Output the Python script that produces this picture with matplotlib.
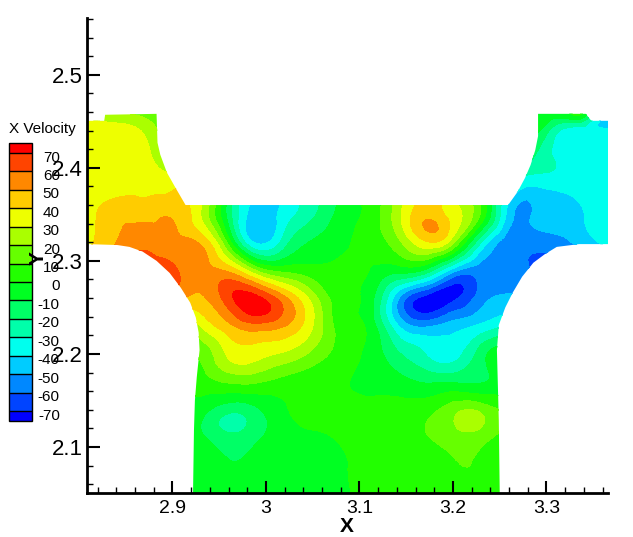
import numpy as np
import matplotlib
matplotlib.use('Agg')
import matplotlib.pyplot as plt
import matplotlib.tri as mtri
from matplotlib.patches import Polygon
from matplotlib.ticker import MultipleLocator, FormatStrFormatter
from matplotlib.transforms import ScaledTranslation

plt.rcParams['font.family'] = ['Liberation Sans', 'DejaVu Sans']
plt.rcParams['axes.unicode_minus'] = False

# Velocity on a coarse lattice (also just outside the
# domain, so the contours run cleanly up to the clip edge)
x_grid = [2.81, 2.84, 2.87, 2.90, 2.93, 2.96, 2.99, 3.02, 3.05, 3.08,
          3.11, 3.14, 3.17, 3.20, 3.23, 3.26, 3.29, 3.32, 3.35, 3.38]
y_grid = [2.47, 2.44, 2.41, 2.38, 2.35, 2.32, 2.29, 2.26, 2.23, 2.20,
          2.17, 2.14, 2.11, 2.08, 2.05]
u_rows = [
    [25, 12, 8, 5, 5, 3, 0, 0, 0, 0, 0, 0, 0, 0, 0, -2, -3, -3, -15, -36],
    [34, 34, 28, 12, 5, 0, -5, -5, -3, -1, 1, 3, 5, 3, 1, 0, -8, -33, -36, -36],
    [35, 35, 33, 22, 15, -5, -25, -22, -12, -3, 2, 10, 25, 15, 3, -10, -22, -35, -36, -36],
    [35, 36, 37, 38, 35, -10, -38, -36, -22, -7, 3, 20, 42, 30, 5, -30, -40, -37, -35, -35],
    [36, 46, 47, 49, 30, -15, -45, -36, -22, -7, 3, 25, 47, 35, 8, -45, -48, -45, -37, -35],
    [38, 50, 57, 53, 48, 5, -42, -25, -9, -2, 3, 16, 38, 22, -30, -55, -56, -52, -42, -35],
    [45, 60, 65, 62, 53, 47, 18, 6, 3, 2, 0, -6, -12, -45, -55, -55, -62, -65, -60, -40],
    [45, 55, 60, 55, 48, 66, 73, 52, 25, 4, -5, -47, -74, -73, -55, -48, -50, -55, -55, -40],
    [30, 30, 30, 20, 30, 47, 56, 50, 30, 6, -3, -38, -52, -45, -38, -30, -35, -35, -35, -35],
    [5, 5, 5, 10, 12, 32, 34, 28, 17, 6, -3, -18, -30, -35, -15, -3, -5, -5, -5, -5],
    [0, 0, 0, 2, 5, 11, 11, 6, 3, 1, -3, -6, -11, -11, -11, -3, 0, 0, 0, 0],
    [-2, -2, -2, -2, -6, -17, -12, -1, 2, 3, 3, 4, 6, 16, 17, 6, 3, 3, 3, 3],
    [-2, -2, -2, -3, -8, -17, -12, -3, -1, 1, 4, 5, 9, 15, 14, 5, 3, 3, 3, 3],
    [-2, -2, -2, -2, -2, -9, -6, -3, -2, -1, 3, 4, 5, 9, 9, 4, 3, 3, 3, 3],
    [-2, -2, -2, -2, -2, -3, -3, -3, -2, -1, 2, 3, 4, 4, 4, 3, 3, 3, 3, 3],
]

# Extra readings for details smaller than the lattice
extra_x = [3.175, 2.9957, 2.972, 3.205, 3.170, 2.957, 3.220,
           3.30, 3.33, 3.35, 3.30, 3.34]
extra_y = [2.3366, 2.2473, 2.2667, 2.271, 2.245, 2.125, 2.133,
           2.45, 2.45, 2.45, 2.457, 2.457]
extra_u = [52, 74, 71, -73, -72, -23, 24,
           -8, -16, -34, -4, -5]

# Outline of the flow domain
edge_x = [2.922, 2.923, 2.924, 2.926, 2.929, 2.928, 2.925, 2.919, 2.909, 2.897,
          2.883, 2.868, 2.854, 2.841, 2.809, 2.809, 2.827, 2.828, 2.883, 2.884,
          2.887, 2.894, 2.903, 2.914, 3.259, 3.269, 3.277, 3.283, 3.288, 3.291,
          3.291, 3.342, 3.348, 3.366, 3.366, 3.335, 3.311, 3.298, 3.286, 3.274,
          3.264, 3.256, 3.249, 3.247, 3.248, 3.249, 3.250]
edge_y = [2.0505, 2.118, 2.150, 2.175, 2.204, 2.223, 2.239, 2.255, 2.271, 2.287,
          2.300, 2.310, 2.315, 2.317, 2.318, 2.4505, 2.4505, 2.457, 2.458, 2.427,
          2.414, 2.395, 2.379, 2.360, 2.360, 2.374, 2.389, 2.403, 2.419, 2.434,
          2.458, 2.458, 2.4505, 2.4505, 2.318, 2.318, 2.315, 2.307, 2.298, 2.283,
          2.266, 2.250, 2.231, 2.204, 2.167, 2.129, 2.0505]

levels = [-70, -60, -50, -40, -30, -20, -10, 0, 10, 20, 30, 40, 50, 60, 70]
band_colors = ['#0000ff', '#0044ff', '#0088ff', '#00ccff', '#00ffee', '#00ffaa',
               '#00ff66', '#00ff22', '#22ff00', '#66ff00', '#aaff00', '#eeff00',
               '#ffcc00', '#ff8800', '#ff4400', '#ff0000']

W, H = 633, 537
fig = plt.figure(figsize=(W / 100, H / 100), dpi=100)
ax = fig.add_axes([87 / W, (H - 493) / H, (608 - 87) / W, (493 - 18) / H])

X, Y = np.meshgrid(x_grid, y_grid)
pts_x = np.concatenate([X.ravel(), extra_x])
pts_y = np.concatenate([Y.ravel(), extra_y])
pts_u = np.concatenate([np.array(u_rows, dtype=float).ravel(), extra_u])
tri = mtri.Triangulation(pts_x, pts_y)
refiner = mtri.UniformTriRefiner(tri)
fine_tri, fine_u = refiner.refine_field(pts_u, subdiv=3)

cs = ax.tricontourf(fine_tri, fine_u, levels=levels, colors=band_colors, extend='both')
domain = Polygon(np.column_stack([edge_x, edge_y]), closed=True, transform=ax.transData,
                 facecolor='none', edgecolor='none')
ax.add_patch(domain)
cs.set_clip_path(domain)
cs.set_edgecolor('face')
cs.set_linewidth(0.3)

ax.set_xlim(2.8086, 3.3658)
ax.set_ylim(2.0505, 2.561)
ax.spines['top'].set_visible(False)
ax.spines['right'].set_visible(False)
ax.spines['left'].set_linewidth(2)
ax.spines['bottom'].set_linewidth(2)
ax.xaxis.set_major_locator(MultipleLocator(0.1))
ax.xaxis.set_minor_locator(MultipleLocator(0.02))
ax.yaxis.set_major_locator(MultipleLocator(0.1))
ax.yaxis.set_minor_locator(MultipleLocator(0.02))
ax.xaxis.set_major_formatter(FormatStrFormatter('%g'))
ax.yaxis.set_major_formatter(FormatStrFormatter('%g'))
ax.tick_params(axis='x', which='major', direction='in', length=9, width=1.5, labelsize=14, pad=5)
ax.tick_params(axis='y', which='major', direction='in', length=9, width=1.5, labelsize=16, pad=3)
ax.tick_params(which='minor', direction='in', length=4.5, width=1)
ax.set_axisbelow(False)

fig.text(347 / W, (H - 527) / H, 'X', fontsize=15, fontweight='bold', ha='center', va='center')
fig.text(38 / W, (H - 258) / H, 'Y', fontsize=15, fontweight='bold', rotation=90,
         ha='center', va='center', zorder=5)

# Colour legend
cax = fig.add_axes([9 / W, (H - 421) / H, 23 / W, 278 / H])
cb = fig.colorbar(cs, cax=cax, ticks=levels, format='%d', extendrect=True,
                  extendfrac=10 / 258, drawedges=True)
cb.outline.set_linewidth(1)
cb.outline.set_edgecolor('black')
cb.dividers.set_linewidth(1)
cb.dividers.set_color('black')
cb.ax.minorticks_off()
cb.ax.tick_params(length=0, labelsize=11, pad=20)
shift = ScaledTranslation(0, -3 / 100, fig.dpi_scale_trans)
for lab in cb.ax.get_yticklabels():
    lab.set_ha('right')
    lab.set_transform(lab.get_transform() + shift)
    lab.set_zorder(10)
fig.text(9 / W, (H - 129) / H, 'X Velocity', fontsize=11, ha='left', va='center')

fig.savefig('out.png', dpi=100)
